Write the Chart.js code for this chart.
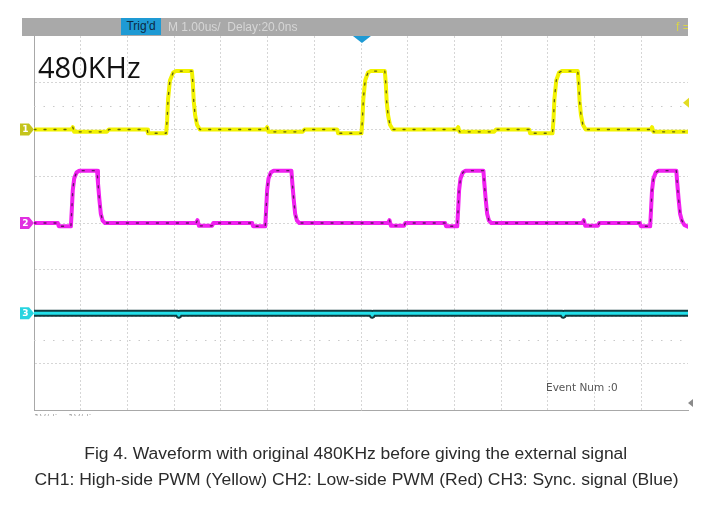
<!DOCTYPE html>
<html>
<head>
<meta charset="utf-8">
<script src="https://cdn.jsdelivr.net/npm/chart.js@4.4.1/dist/chart.umd.min.js"></script>
<style>
  html, body { margin: 0; padding: 0; background: #fff; }
  #wrap { position: relative; width: 712px; height: 507px; overflow: hidden; }
  #scope { position: absolute; left: 0; top: 0; }
  .t { position: absolute; white-space: nowrap; }
  #trig { left: 121px; top: 18px; width: 40px; height: 17px; background: #1e9ad4; color: #0d2a45; font: 12px "Liberation Sans", Arial, sans-serif; line-height: 17px; text-align: center; }
  #hdr { left: 168px; top: 18px; color: #d6d6d6; font: 12px "Liberation Sans", Arial, sans-serif; line-height: 18px; }
  #fq { left: 676px; top: 18px; width: 12px; overflow: hidden; color: #d8d448; font: 12px "Liberation Sans", Arial, sans-serif; line-height: 18px; }
  #big { left: 38px; top: 52px; font: 29px "Open Sans", sans-serif; line-height: 29px; color: #111; }
  #ev { left: 546px; top: 381px; font: 10.5px "DejaVu Sans", sans-serif; color: #555; line-height: 13px; }
  #cut { left: 34px; top: 412px; height: 4px; overflow: hidden; font: 9px "DejaVu Sans", sans-serif; color: #a8a8a8; line-height: 12px; }
  .cap { left: 0; width: 712px; text-align: center; font: 16px "Liberation Sans", Arial, sans-serif; color: #2b2b2b; line-height: 18px; }
  .cap span { display: inline-block; transform-origin: 50% 50%; }
</style>
</head>
<body>
<div id="wrap">
  <canvas id="scope"></canvas>
  <div class="t" id="trig">Trig'd</div>
  <div class="t" id="hdr">M 1.00us/&nbsp; Delay:20.0ns</div>
  <div class="t" id="fq">f =</div>
  <div class="t" id="big">480KHz</div>
  <div class="t" id="ev">Event Num :0</div>
  <div class="t" id="cut">1V/div&nbsp; 1V/div</div>
  <div class="t cap" style="top:445px"><span data-w="543">Fig 4. Waveform with original 480KHz before giving the external signal</span></div>
  <div class="t cap" style="top:471px"><span data-w="644">CH1: High-side PWM (Yellow) CH2: Low-side PWM (Red) CH3: Sync. signal (Blue)</span></div>
</div>
<script>
  // time in us (1 div = 1.00us), level in vertical divisions (0 = bottom of screen)
  const ch1Points = [
    [0, 6.0], [0.80, 6.0], [0.83, 6.05], [0.86, 5.95], [1.56, 5.95], [1.60, 6.0], [2.42, 6.0], [2.44, 5.92], [2.83, 5.92],
    [2.85, 6.2], [2.87, 6.65], [2.91, 7.05], [2.98, 7.22], [3.04, 7.25], [3.38, 7.25], [3.40, 7.0], [3.42, 6.6], [3.45, 6.3], [3.49, 6.1], [3.55, 6.0],
    [4.96, 6.0], [4.99, 6.05], [5.02, 5.95], [5.75, 5.95], [5.79, 6.0], [6.49, 6.0], [6.51, 5.92], [7.01, 5.92],
    [7.03, 6.2], [7.05, 6.65], [7.09, 7.05], [7.15, 7.22], [7.21, 7.25], [7.51, 7.25], [7.53, 7.0], [7.55, 6.6], [7.58, 6.3], [7.62, 6.1], [7.68, 6.0],
    [9.05, 6.0], [9.08, 6.05], [9.11, 5.95], [9.85, 5.95], [9.89, 6.0], [10.60, 6.0], [10.62, 5.92], [11.10, 5.92],
    [11.12, 6.2], [11.14, 6.65], [11.18, 7.05], [11.24, 7.22], [11.30, 7.25], [11.64, 7.25], [11.66, 7.0], [11.68, 6.6], [11.71, 6.3], [11.75, 6.1], [11.81, 6.0],
    [13.20, 6.0], [13.23, 6.05], [13.26, 5.95], [14, 5.95]
  ];
  const ch2Points = [
    [0, 4.0], [0.51, 4.0], [0.53, 3.93], [0.79, 3.93],
    [0.81, 4.3], [0.83, 4.7], [0.86, 4.95], [0.91, 5.08], [0.97, 5.12], [1.35, 5.12], [1.37, 4.85], [1.40, 4.5], [1.43, 4.2], [1.47, 4.05], [1.52, 4.0],
    [3.47, 4.0], [3.50, 4.06], [3.53, 3.94], [3.81, 3.94], [3.84, 4.0],
    [4.67, 4.0], [4.69, 3.93], [4.95, 3.93],
    [4.97, 4.3], [4.99, 4.7], [5.02, 4.95], [5.07, 5.08], [5.13, 5.12], [5.51, 5.12], [5.53, 4.85], [5.56, 4.5], [5.59, 4.2], [5.63, 4.05], [5.68, 4.0],
    [7.58, 4.0], [7.61, 4.06], [7.64, 3.94], [7.92, 3.94], [7.95, 4.0],
    [8.80, 4.0], [8.82, 3.93], [9.06, 3.93],
    [9.08, 4.3], [9.10, 4.7], [9.13, 4.95], [9.18, 5.08], [9.24, 5.12], [9.62, 5.12], [9.64, 4.85], [9.67, 4.5], [9.70, 4.2], [9.74, 4.05], [9.79, 4.0],
    [11.74, 4.0], [11.77, 4.06], [11.80, 3.94], [12.07, 3.94], [12.10, 4.0],
    [12.97, 4.0], [12.99, 3.93], [13.19, 3.93],
    [13.21, 4.3], [13.23, 4.7], [13.26, 4.95], [13.31, 5.08], [13.37, 5.12], [13.75, 5.12], [13.77, 4.85], [13.80, 4.5], [13.83, 4.2], [13.87, 4.05], [13.92, 3.96], [14, 3.92]
  ];
  const ch3Points = [
    [0, 2.07], [3.08, 2.07], [3.10, 2.03], [3.12, 2.07], [7.22, 2.07], [7.24, 2.03], [7.26, 2.07],
    [11.31, 2.07], [11.33, 2.03], [11.35, 2.07], [14, 2.07]
  ];
  const channelLevels = [6.0, 4.0, 2.07];
  const sparseLevels = [6.5, 1.5];
  const trigTime = 7.02;
  const trigLevel = 6.57;

  const pts = (arr) => arr.map(([x, y]) => ({ x, y }));

  function trace(data, color, width, order, dash) {
    return {
      data: pts(data), borderColor: color, borderWidth: width, borderDash: dash || [],
      borderJoinStyle: "round", borderCapStyle: "round",
      pointRadius: 0, tension: 0, fill: false, order,
    };
  }

  // scope furniture: header bar, trigger marks, channel ground markers
  const scopeDecor = {
    id: "scopeDecor",
    beforeDatasetsDraw(chart) {
      const { ctx, chartArea: { left, right }, scales: { y } } = chart;
      ctx.save();
      ctx.strokeStyle = "#c9c9c9"; ctx.lineWidth = 1; ctx.setLineDash([1.5, 8]);
      sparseLevels.forEach((v) => {
        const p = Math.round(y.getPixelForValue(v)) + 0.5;
        ctx.beginPath(); ctx.moveTo(left, p); ctx.lineTo(right, p); ctx.stroke();
      });
      ctx.restore();
    },
    afterDraw(chart) {
      const { ctx, chartArea: { right, top, bottom }, scales: { x, y } } = chart;
      ctx.save();
      ctx.fillStyle = "#a9a9a9";
      ctx.fillRect(22, 18, right - 22, top - 18);

      const tx = x.getPixelForValue(trigTime);
      ctx.fillStyle = "#1e9ad4";
      ctx.beginPath(); ctx.moveTo(tx - 9, top); ctx.lineTo(tx + 9, top); ctx.lineTo(tx, top + 7); ctx.closePath(); ctx.fill();

      const ty = y.getPixelForValue(trigLevel);
      ctx.fillStyle = "#e2dc22";
      ctx.beginPath(); ctx.moveTo(right - 5, ty); ctx.lineTo(right + 1, ty - 5); ctx.lineTo(right + 1, ty + 5); ctx.closePath(); ctx.fill();

      ctx.fillStyle = "#8a8a8a";
      ctx.beginPath(); ctx.moveTo(right, bottom - 7); ctx.lineTo(right + 5, bottom - 11); ctx.lineTo(right + 5, bottom - 3); ctx.closePath(); ctx.fill();

      const cols = ["#c4c41c", "#e030e0", "#28d4e0"];
      channelLevels.forEach((v, i) => {
        const cy = y.getPixelForValue(v);
        ctx.fillStyle = cols[i];
        ctx.beginPath();
        ctx.moveTo(20, cy - 6); ctx.lineTo(29, cy - 6); ctx.lineTo(34, cy); ctx.lineTo(29, cy + 6); ctx.lineTo(20, cy + 6);
        ctx.closePath(); ctx.fill();
        ctx.fillStyle = "#fff"; ctx.font = "bold 9px 'DejaVu Sans'"; ctx.textAlign = "center"; ctx.textBaseline = "middle";
        ctx.fillText(String(i + 1), 25.5, cy + 0.5);
      });
      ctx.restore();
    },
  };

  const gridColor = (c) => (c.tick && c.tick.value > 0 && c.tick.value < (c.scale.axis === "x" ? 14 : 8)) ? "#d6d6d6" : "rgba(0,0,0,0)";

  new Chart(document.getElementById("scope"), {
    type: "line",
    data: {
      datasets: [
        trace(ch1Points, "rgba(35,35,20,0.7)", 1.3, 0, [2, 8]),
        trace(ch2Points, "rgba(35,20,35,0.7)", 1.3, 0, [2, 8]),
        trace(ch1Points, "#f2f200", 4, 1),
        trace(ch2Points, "#f020f0", 4, 1),
        trace(ch3Points, "#22e0ea", 3, 1),
        trace(ch3Points, "#0f3a3e", 7, 2),
      ],
    },
    options: {
      responsive: true, maintainAspectRatio: false, animation: false,
      layout: { padding: { left: 34, top: 36, right: 24, bottom: 97 } },
      plugins: { legend: { display: false }, tooltip: { enabled: false } },
      scales: {
        x: { type: "linear", min: 0, max: 14, ticks: { display: false, stepSize: 1 }, grid: { color: gridColor, drawTicks: false }, border: { display: true, color: "#a8a8a8", dash: [2, 2] } },
        y: { type: "linear", min: 0, max: 8, ticks: { display: false, stepSize: 1 }, grid: { color: gridColor, drawTicks: false }, border: { display: true, color: "#a8a8a8", dash: [2, 2] } },
      },
    },
    plugins: [scopeDecor],
  });

  document.querySelectorAll(".cap span").forEach((s) => {
    const w = s.getBoundingClientRect().width;
    s.style.transform = `scaleX(${(+s.dataset.w / w).toFixed(4)})`;
  });
</script>
</body>
</html>
